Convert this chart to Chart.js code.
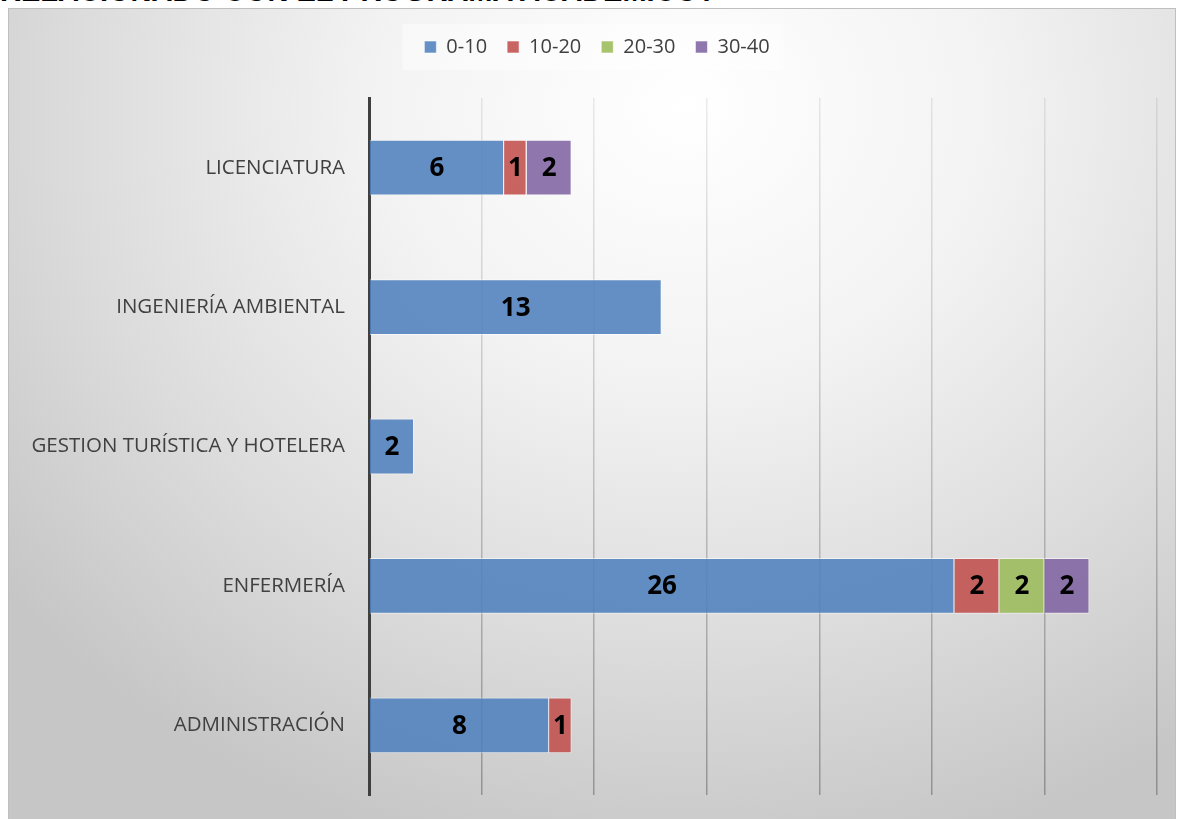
<!DOCTYPE html>
<html lang="es">
<head>
  <meta charset="UTF-8">
  <title>Programa académico</title>
  <script src="https://cdn.jsdelivr.net/npm/chart.js"></script>
  <style>
    body { margin: 0; background: #ffffff; overflow: hidden; }
    #title {
      position: absolute; left: 0; top: -23px; white-space: nowrap;
      font: bold 29px "Liberation Sans", Arial, sans-serif; line-height: 29px; color: #000;
    }
    #frame {
      position: absolute; left: 8px; top: 8px; width: 1166px; height: 812px;
      border: 1px solid #bfbfbf;
      background: radial-gradient(ellipse 75% 95% at 58% 12%, #ffffff 0%, #f3f3f3 35%, #dcdcdc 70%, #c6c6c6 100%);
    }
    canvas { display: block; }
  </style>
</head>
<body>
  <div id="title">RELACIONADO CON EL PROGRAMA ACADÉMICO?</div>
  <div id="frame">
    <canvas id="chart" width="1166" height="812"></canvas>
  </div>

  <script>
    const categories = ['LICENCIATURA', 'INGENIERÍA AMBIENTAL', 'GESTION TURÍSTICA Y HOTELERA', 'ENFERMERÍA', 'ADMINISTRACIÓN'];
    const seriesNames = ['0-10', '10-20', '20-30', '30-40'];
    const range0to10  = [6, 13, 2, 26, 8];
    const range10to20 = [1, null, null, 2, 1];
    const range20to30 = [null, null, null, 2, null];
    const range30to40 = [2, null, null, 2, null];
    const xTicks = [0, 5, 10, 15, 20, 25, 30, 35];

    const colors = ['rgba(79,129,189,0.88)', 'rgba(192,80,77,0.88)', 'rgba(155,187,89,0.88)', 'rgba(128,100,162,0.88)'];
    const allSeries = [range0to10, range10to20, range20to30, range30to40];

    // nudge the legend a bit right, light box behind it, value labels inside the bars
    const extras = {
      id: 'extras',
      afterLayout(chart) {
        chart.legend.left += 14;
        chart.legend.right += 14;
      },
      beforeDraw(chart) {
        const boxes = chart.legend.legendHitBoxes;
        if (!boxes || !boxes.length) return;
        const c = chart.ctx;
        const first = boxes[0], last = boxes[boxes.length - 1];
        c.save();
        c.fillStyle = 'rgba(255,255,255,0.45)';
        c.fillRect(first.left - 22, first.top - 13, last.left + last.width - first.left + 36, first.height + 26);
        c.restore();
      },
      afterDatasetsDraw(chart) {
        const c = chart.ctx;
        c.save();
        c.font = 'bold 26px "Open Sans", "Liberation Sans", sans-serif';
        c.fillStyle = '#000';
        c.textAlign = 'center';
        c.textBaseline = 'middle';
        chart.data.datasets.forEach((ds, i) => {
          chart.getDatasetMeta(i).data.forEach((bar, j) => {
            const v = ds.data[j];
            if (v == null) return;
            c.fillText(String(v), (bar.x + bar.base) / 2, bar.y + 1);
          });
        });
        c.restore();
      }
    };

    const ctx = document.getElementById('chart').getContext('2d');
    new Chart(ctx, {
      type: 'bar',
      data: {
        labels: categories,
        datasets: seriesNames.map((name, i) => ({
          label: name,
          data: allSeries[i],
          backgroundColor: colors[i],
          borderColor: 'rgba(255,255,255,0.55)',
          borderWidth: 1,
          categoryPercentage: 0.8,
          barPercentage: 0.5
        }))
      },
      options: {
        indexAxis: 'y',
        responsive: false,
        animation: false,
        layout: { padding: { left: 0, right: 18, top: 8, bottom: 26 } },
        scales: {
          x: {
            stacked: true,
            min: 0,
            max: 35,
            afterBuildTicks: (axis) => { axis.ticks = xTicks.map(v => ({ value: v })); },
            ticks: { display: false },
            border: { display: false },
            grid: {
              drawTicks: false,
              lineWidth: 1.5,
              color: (context) => {
                const area = context.chart.chartArea;
                if (!area) return 'rgba(0,0,0,0.15)';
                const g = context.chart.ctx.createLinearGradient(0, area.top, 0, area.bottom);
                g.addColorStop(0, 'rgba(0,0,0,0.08)');
                g.addColorStop(1, 'rgba(0,0,0,0.28)');
                return g;
              }
            }
          },
          // empty spacer between legend and plot
          gap: {
            axis: 'x',
            position: 'top',
            min: 0,
            max: 35,
            afterFit: (axis) => { axis.height = 31; },
            ticks: { display: false },
            border: { display: false },
            grid: { display: false, drawTicks: false }
          },
          y: {
            stacked: true,
            afterFit: (axis) => {
              axis.width = 360;
              axis.paddingTop = 0;
              axis.paddingBottom = 0;
            },
            border: { color: '#3f3f3f', width: 3 },
            grid: { display: false, drawTicks: false },
            ticks: {
              padding: 24,
              color: '#404040',
              font: { family: '"Open Sans", sans-serif', size: 20.5 }
            }
          }
        },
        plugins: {
          legend: {
            position: 'top',
            labels: {
              boxWidth: 12,
              boxHeight: 12,
              padding: 20,
              color: '#404040',
              font: { family: '"Open Sans", sans-serif', size: 20 }
            }
          },
          tooltip: { enabled: false }
        }
      },
      plugins: [extras]
    });
  </script>
</body>
</html>
